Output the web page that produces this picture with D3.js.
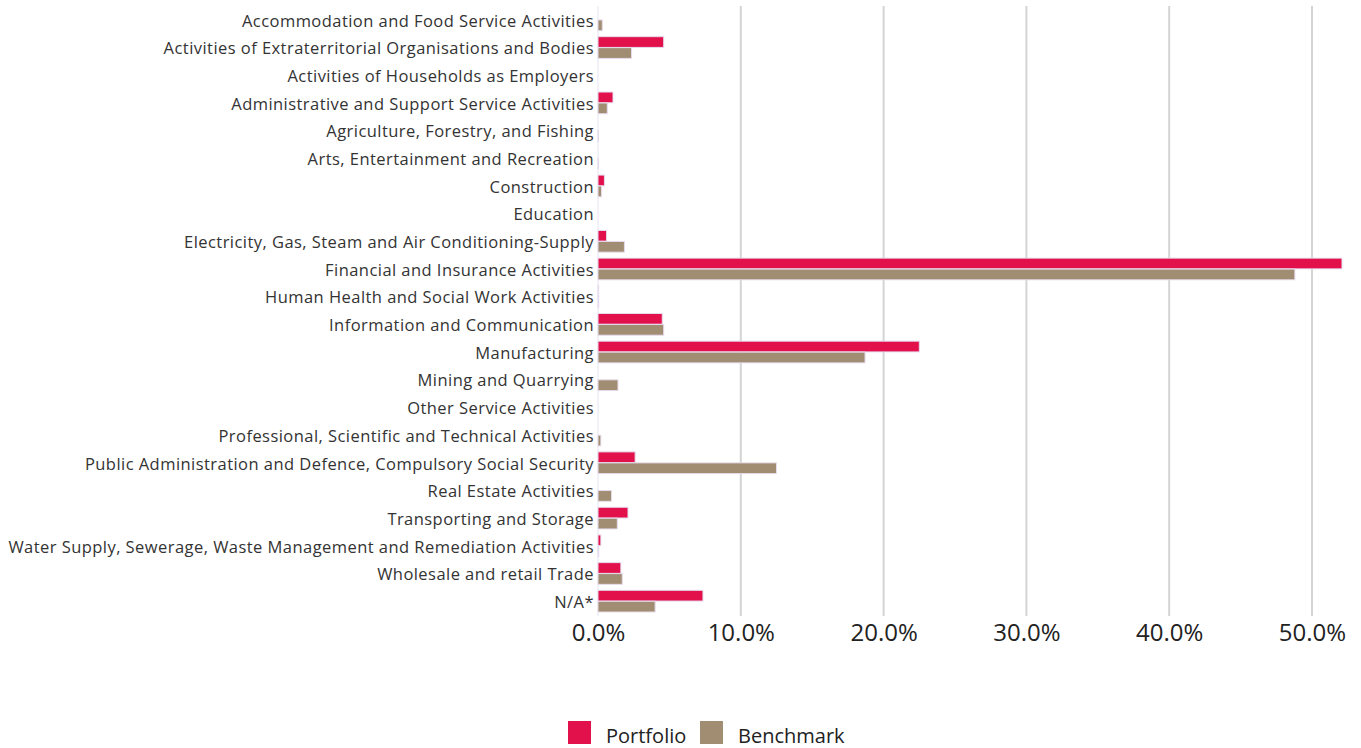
<!DOCTYPE html>
<html><head><meta charset="utf-8">
<script src="https://cdn.jsdelivr.net/npm/d3@7"></script>
<style>body{margin:0;background:#fff;}svg{display:block;}</style>
</head><body>
<script>
const categories = [
 "Accommodation and Food Service Activities",
 "Activities of Extraterritorial Organisations and Bodies",
 "Activities of Households as Employers",
 "Administrative and Support Service Activities",
 "Agriculture, Forestry, and Fishing",
 "Arts, Entertainment and Recreation",
 "Construction",
 "Education",
 "Electricity, Gas, Steam and Air Conditioning-Supply",
 "Financial and Insurance Activities",
 "Human Health and Social Work Activities",
 "Information and Communication",
 "Manufacturing",
 "Mining and Quarrying",
 "Other Service Activities",
 "Professional, Scientific and Technical Activities",
 "Public Administration and Defence, Compulsory Social Security",
 "Real Estate Activities",
 "Transporting and Storage",
 "Water Supply, Sewerage, Waste Management and Remediation Activities",
 "Wholesale and retail Trade",
 "N/A*"
];
const portfolio = [0, 4.6, 0, 1.05, 0, 0, 0.45, 0, 0.6, 52.1, 0.05, 4.5, 22.5, 0, 0, 0, 2.6, 0, 2.1, 0.2, 1.6, 7.35];
const benchmark = [0.3, 2.35, 0, 0.65, 0.02, 0.02, 0.25, 0, 1.85, 48.8, 0.05, 4.6, 18.7, 1.4, 0, 0.2, 12.5, 0.95, 1.35, 0.05, 1.7, 4.0];
const ticks = [0, 10, 20, 30, 40, 50];
const seriesNames = ["Portfolio", "Benchmark"];
const colors = ["#e2104b", "#a18d72"];

const W = 1361, H = 748;
const svg = d3.select("body").append("svg").attr("width", W).attr("height", H);
const x = d3.scaleLinear().domain([0, 50]).range([598, 1312]);
const y = d3.scaleBand().domain(categories).range([6, 615]).paddingInner(0.2).paddingOuter(0.1);
const sub = d3.scaleBand().domain(seriesNames).range([0, y.bandwidth()]).padding(0.02);

// gridlines
svg.append("g").selectAll("line").data(ticks.filter(t => t > 0)).join("line")
  .attr("x1", d => x(d)).attr("x2", d => x(d)).attr("y1", 6).attr("y2", 616)
  .attr("stroke", "#d4d4d4").attr("stroke-width", 2);
// zero line
svg.append("line").attr("x1", x(0)).attr("x2", x(0)).attr("y1", 6).attr("y2", 616)
  .attr("stroke", "#e4e4f0").attr("stroke-width", 1);

// bars
const data = [];
categories.forEach((c, i) => {
  data.push({c, s: "Portfolio", v: portfolio[i], col: colors[0]});
  data.push({c, s: "Benchmark", v: benchmark[i], col: colors[1]});
});
svg.append("g").selectAll("rect").data(data).join("rect")
  .attr("x", x(0)).attr("y", d => y(d.c) + sub(d.s))
  .attr("width", d => x(d.v) - x(0)).attr("height", sub.bandwidth())
  .attr("fill", d => d.col).attr("stroke", "#e6dcee").attr("stroke-width", 1);

// category labels
const yAxis = d3.axisLeft(y).tickSize(0).tickPadding(4);
const gy = svg.append("g").attr("transform", `translate(${x(0)},1.5)`).call(yAxis);
gy.select(".domain").remove();
gy.selectAll("text").attr("font-family", "'Open Sans', sans-serif").attr("font-size", 16.5)
  .attr("letter-spacing", "0.45px").attr("fill", "#333");

// x axis
const xAxis = d3.axisBottom(x).tickValues(ticks).tickSize(0).tickPadding(10).tickFormat(d => d.toFixed(1) + "%");
const gx = svg.append("g").attr("transform", `translate(0,614)`).call(xAxis);
gx.select(".domain").remove();
gx.selectAll("text").attr("font-family", "'Open Sans', sans-serif").attr("font-size", 24).attr("fill", "#222");

// legend
const leg = svg.append("g");
const legX = [568, 700];
seriesNames.forEach((s, i) => {
  leg.append("rect").attr("x", legX[i]).attr("y", 721).attr("width", 23).attr("height", 23).attr("fill", colors[i]);
  leg.append("text").attr("x", legX[i] + 38).attr("y", 743).text(s)
    .attr("font-family", "'Open Sans', sans-serif").attr("font-size", 20).attr("fill", "#222");
});
</script>
</body></html>
